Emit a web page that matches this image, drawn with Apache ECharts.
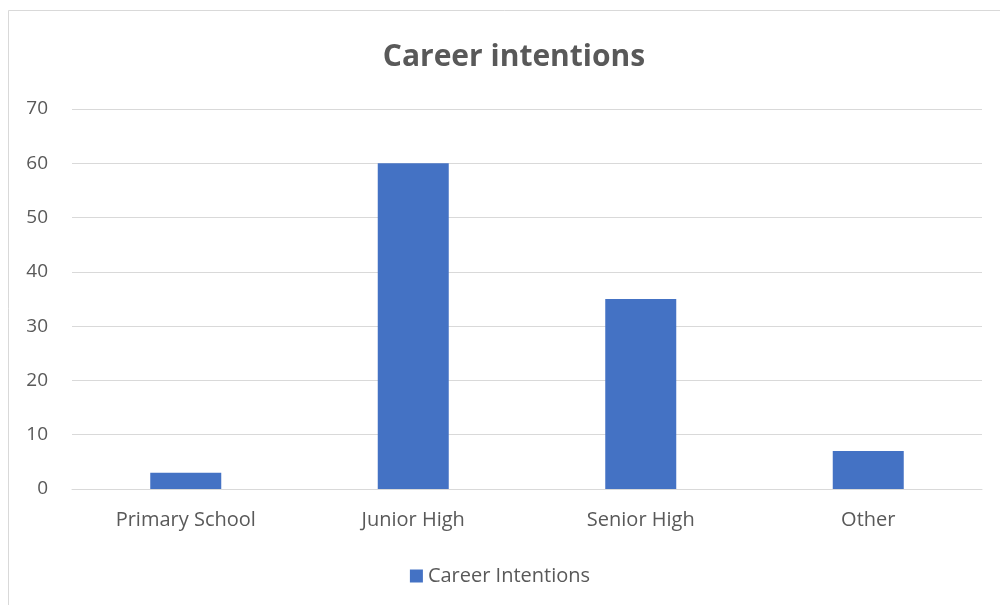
<!DOCTYPE html>
<html>
<head>
<meta charset="utf-8">
<script src="https://cdn.jsdelivr.net/npm/echarts@6/dist/echarts.min.js"></script>
<style>
  html, body { margin: 0; padding: 0; background: #fff; }
  #chart { width: 1000px; height: 605px; }
</style>
</head>
<body>
<div id="chart"></div>
<script>
const categories = ['Primary School', 'Junior High', 'Senior High', 'Other'];
const seriesName = 'Career Intentions';
const values = [3, 60, 35, 7];
const titleText = 'Career intentions';

const font = '"Open Sans", "Noto Sans", sans-serif';
const chart = echarts.init(document.getElementById('chart'), null, { renderer: 'canvas' });

chart.setOption({
  animation: false,
  backgroundColor: '#ffffff',
  graphic: [{
    type: 'rect',
    shape: { x: 8.5, y: 10.5, width: 1100, height: 700 },
    style: { fill: 'none', stroke: '#d9d9d9', lineWidth: 1 },
    silent: true
  }],
  title: {
    text: titleText,
    left: 509,
    textAlign: 'center',
    top: 37,
    textStyle: { fontFamily: font, fontSize: 30, fontWeight: 'bold', color: '#595959' }
  },
  legend: {
    data: [seriesName],
    top: 561,
    left: 'center',
    itemWidth: 13,
    itemHeight: 13,
    itemGap: 5,
    icon: 'rect',
    textStyle: { fontFamily: font, fontSize: 20, color: '#595959' }
  },
  grid: { left: 72, right: 18, top: 109, bottom: 116, containLabel: false },
  xAxis: {
    type: 'category',
    data: categories,
    axisLine: { show: true, lineStyle: { color: '#d9d9d9', width: 1 } },
    axisTick: { show: false },
    axisLabel: { fontFamily: font, fontSize: 20, color: '#595959', margin: 21 }
  },
  yAxis: {
    type: 'value',
    min: 0,
    max: 70,
    interval: 10,
    axisLine: { show: false },
    axisTick: { show: false },
    splitLine: { lineStyle: { color: '#d9d9d9', width: 1 } },
    axisLabel: { fontFamily: font, fontSize: 19, color: '#595959', margin: 24 }
  },
  series: [{
    name: seriesName,
    type: 'bar',
    data: values,
    barWidth: 71,
    itemStyle: { color: '#4472c4' }
  }]
});
</script>
</body>
</html>
